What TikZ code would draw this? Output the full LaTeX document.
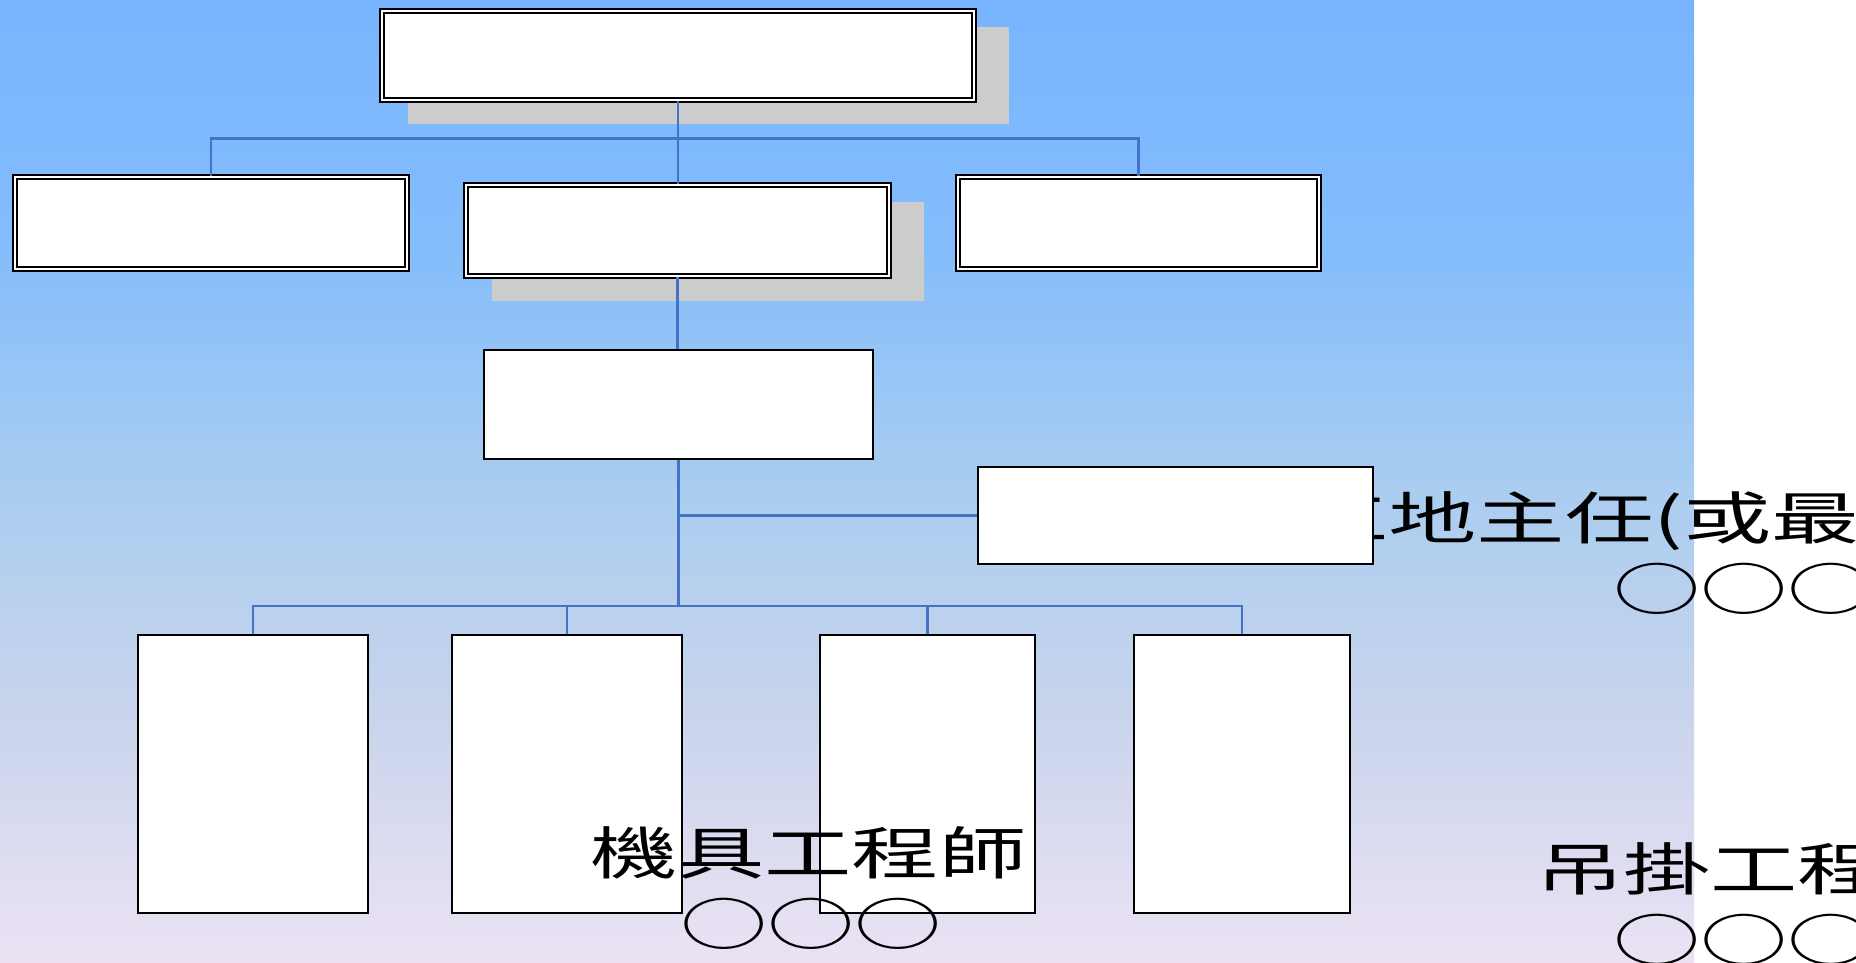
\documentclass[tikz,border=0pt]{standalone}
\usepackage{fontspec}
\usepackage{graphicx}
\newfontfamily\cjk{Noto Sans CJK TC}
\usetikzlibrary{calc}
\definecolor{bgA}{RGB}{120,180,255}
\definecolor{bgB}{RGB}{132,189,251}
\definecolor{bgC}{RGB}{170,205,240}
\definecolor{bgD}{RGB}{200,212,236}
\definecolor{bgE}{RGB}{236,226,244}
\definecolor{connblue}{RGB}{68,114,196}
\definecolor{shadowgray}{RGB}{204,204,204}
\pgfdeclareverticalshading{bgshade}{100bp}{color(0bp)=(bgE); color(25bp)=(bgE); color(38.14bp)=(bgD); color(49.56bp)=(bgC); color(62.02bp)=(bgB); color(75bp)=(bgA); color(100bp)=(bgA)}
\begin{document}
\begin{tikzpicture}[x=1pt,y=-1pt,
  dbox/.style={rectangle, draw=black, line width=1.8pt, double=white, double distance=2.4pt, fill=white, inner sep=0pt},
  sbox/.style={rectangle, draw=black, line width=2.2pt, fill=white, inner sep=0pt},
  shadowbox/.style={rectangle, fill=shadowgray, draw=none, inner sep=0pt},
  conn/.style={draw=connblue, line width=2.6pt},
  lbl/.style={inner sep=0pt, anchor=base west, font=\cjk\fontsize{57}{60}\selectfont}]
\fill[white] (0,0) rectangle (1856,963);
\useasboundingbox (0,0) rectangle (1856,963);
\clip (0,0) rectangle (1856,963);
\shade[shading=bgshade] (0,0) rectangle (1694,963);
% shadows
\node[shadowbox, minimum width=601, minimum height=97] (tsh) at (708.5,75.5) {};
\node[shadowbox, minimum width=432, minimum height=99] (msh) at (708,251.5) {};
% text partly hidden behind the supervisor box
\node[lbl] (t1) at (1300,539) {\scalebox{1.55}[1]{工地主任(或最}};
\node[lbl] (t1c) at (1613,610) {\scalebox{1.53}[1]{○○○}};
% boxes
\node[dbox, minimum width=592, minimum height=89] (T) at (678,55.5) {};
\node[dbox, minimum width=392, minimum height=92] (L) at (211,223) {};
\node[dbox, minimum width=423, minimum height=91] (M) at (677.5,230.5) {};
\node[dbox, minimum width=361, minimum height=92] (R) at (1138.5,223) {};
\node[sbox, minimum width=389, minimum height=109] (B3) at (678.5,404.5) {};
\node[sbox, minimum width=395, minimum height=97] (RS) at (1175.5,515.5) {};
\node[sbox, minimum width=230, minimum height=278] (C1) at (253,774) {};
\node[sbox, minimum width=230, minimum height=278] (C2) at (567,774) {};
\node[sbox, minimum width=215, minimum height=278] (C3) at (927.5,774) {};
\node[sbox, minimum width=216, minimum height=278] (C4) at (1242,774) {};
% connectors
\coordinate (bus1) at (678,138.5);
\coordinate (bus2) at (678.5,606);
\draw[conn] (L.north) |- (bus1) -| (R.north);
\draw[conn] (T.south) -- (T.south |- M.north);
\draw[conn] (M.south) -- (M.south |- B3.north);
\draw[conn, line width=3.2pt] (B3.south) -- (B3.south |- bus2);
\draw[conn] (B3.south |- RS.west) -- (RS.west);
\draw[conn] (C1.north) |- (bus2) -| (C4.north);
\draw[conn] (C2.north) -- (C2.north |- bus2);
\draw[conn] (C3.north) -- (C3.north |- bus2);
% labels
\node[lbl] (t2) at (590,874) {\scalebox{1.53}[1]{機具工程師}};
\node[lbl] (t2c) at (680,945) {\scalebox{1.53}[1]{○○○}};
\node[lbl] (t3) at (1536,890) {\scalebox{1.53}[1]{吊掛工程}};
\node[lbl] (t3c) at (1613,961) {\scalebox{1.53}[1]{○○○}};
\end{tikzpicture}
\end{document}
